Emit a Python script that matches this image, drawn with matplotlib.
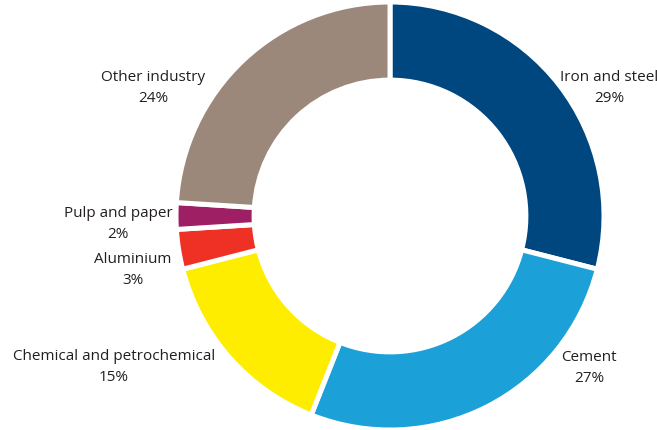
import matplotlib.pyplot as plt

plt.rcParams['font.family'] = ['Open Sans', 'DejaVu Sans']

sectors = ["Iron and steel", "Cement", "Chemical and petrochemical",
           "Aluminium", "Pulp and paper", "Other industry"]
shares = [29, 27, 15, 3, 2, 24]
colors = ["#00467F", "#1BA0D8", "#FFED00", "#EE3124", "#9E1F63", "#9C887A"]

# label anchor points, in pixels from the top-left corner
label_xy = [(609, 88), (589, 368), (114, 367), (133, 270), (118, 224), (153, 88)]

W, H = 657, 430
R = 214
fig = plt.figure(figsize=(W / 100, H / 100), dpi=100)
ax = fig.add_axes([0, 0, 1, 1])

ax.pie(shares, colors=colors, startangle=90, counterclock=False,
       center=(390, H - 216), radius=R,
       wedgeprops=dict(width=R * 0.365, edgecolor='white', linewidth=3.6))
ax.set_xlim(0, W)
ax.set_ylim(0, H)
ax.set_aspect('equal')
ax.axis('off')

for name, val, (x, y) in zip(sectors, shares, label_xy):
    ax.text(x, H - y, f"{name}\n{val}%", ha='center', va='center',
            fontsize=11, color='#231F20', linespacing=1.6)

fig.savefig("out.png", dpi=100)
